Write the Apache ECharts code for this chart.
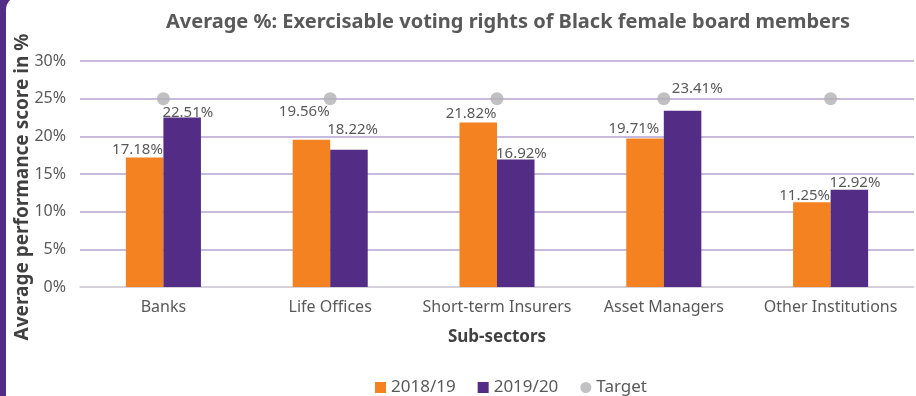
<!DOCTYPE html>
<html>
<head>
<meta charset="utf-8">
<script src="https://cdn.jsdelivr.net/npm/echarts@6/dist/echarts.min.js"></script>
<style>
html,body{margin:0;padding:0;background:#fff;}
#chart{width:916px;height:396px;}
</style>
</head>
<body>
<div id="chart"></div>
<script>
// ---- data ----
var categories = ['Banks', 'Life Offices', 'Short-term Insurers', 'Asset Managers', 'Other Institutions'];
var series2018 = [17.18, 19.56, 21.82, 19.71, 11.25];
var series2019 = [22.51, 18.22, 16.92, 23.41, 12.92];
var target = [25, 25, 25, 25, 25];
var yTicks = [0, 5, 10, 15, 20, 25, 30];

// ---- label placement (layout only, px relative to each bar's top-left) ----
var lblOrange = [[37, -8], [37, -28], [37, -9], [33, -10], [37, -7]];
var lblPurple = [[-1, -5], [-3, -20], [-1, -6], [8, -22], [-1, -7]];

var FONT = 'Noto Sans';
var TXT = '#595959';
var ORANGE = '#F48221';
var PURPLE = '#532D85';
var GREY = '#B2B2B4';

function makeData(vals, offs, align) {
  return vals.map(function (v, i) {
    return {
      value: v,
      label: { position: offs[i], align: align, verticalAlign: 'middle' }
    };
  });
}

var chart = echarts.init(document.getElementById('chart'), null, { renderer: 'canvas' });
chart.setOption({
  backgroundColor: '#fff',
  animation: false,
  graphic: [
    { type: 'rect', left: 0, top: 0, shape: { x: 0, y: 0, width: 40, height: 396 }, style: { fill: PURPLE }, z: -10 },
    { type: 'rect', shape: { x: 6, y: -4, width: 940, height: 420, r: [14, 0, 0, 0] }, style: { fill: '#fff' }, z: -9 }
  ],
  title: {
    text: 'Average %: Exercisable voting rights of Black female board members',
    left: 503, top: 7, textAlign: 'center',
    textStyle: { fontFamily: FONT, fontSize: 20, fontWeight: 'bold', color: TXT }
  },
  legend: {
    top: 374, left: 370, itemWidth: 11, itemHeight: 11, itemGap: 22,
    textStyle: { fontFamily: FONT, fontSize: 17, color: TXT },
    data: [
      { name: '2018/19', icon: 'rect' },
      { name: '2019/20', icon: 'rect' },
      { name: 'Target', icon: 'circle' }
    ]
  },
  grid: { left: 80, right: 2, top: 61, bottom: 109 },
  xAxis: {
    type: 'category', data: categories,
    name: 'Sub-sectors', nameLocation: 'middle', nameGap: 42,
    nameTextStyle: { fontFamily: FONT, fontSize: 17, fontWeight: 'bold', color: '#404040' },
    axisLine: { lineStyle: { color: '#D9D9D9', width: 1.5 } },
    axisTick: { show: false },
    axisLabel: { fontFamily: FONT, fontSize: 16, color: TXT, margin: 12, interval: 0 }
  },
  yAxis: {
    type: 'value', min: 0, max: 30, interval: 5,
    name: 'Average performance score in %', nameLocation: 'middle', nameGap: 48, nameMoveOverlap: false,
    nameTextStyle: { fontFamily: FONT, fontSize: 19, fontWeight: 'bold', color: '#404040', padding: [0, 0, 0, -26] },
    axisLine: { show: false }, axisTick: { show: false },
    axisLabel: {
      fontFamily: FONT, fontSize: 16, color: TXT, margin: 14,
      formatter: function (v) { return yTicks.indexOf(v) >= 0 ? v + '%' : ''; }
    },
    splitLine: { lineStyle: { color: '#B4A3D3', width: 1.5 } }
  },
  series: [
    {
      name: '2018/19', type: 'bar', barGap: '0%', barCategoryGap: '55%',
      itemStyle: { color: ORANGE },
      label: { show: true, fontFamily: FONT, fontSize: 15, color: TXT, formatter: function (p) { return p.value.toFixed(2) + '%'; } },
      data: makeData(series2018, lblOrange, 'right')
    },
    {
      name: '2019/20', type: 'bar',
      itemStyle: { color: PURPLE },
      label: { show: true, fontFamily: FONT, fontSize: 15, color: TXT, formatter: function (p) { return p.value.toFixed(2) + '%'; } },
      data: makeData(series2019, lblPurple, 'left')
    },
    {
      name: 'Target', type: 'scatter', symbol: 'circle', symbolSize: 13,
      itemStyle: { color: GREY }, z: 5,
      data: target
    }
  ]
});
</script>
</body>
</html>
